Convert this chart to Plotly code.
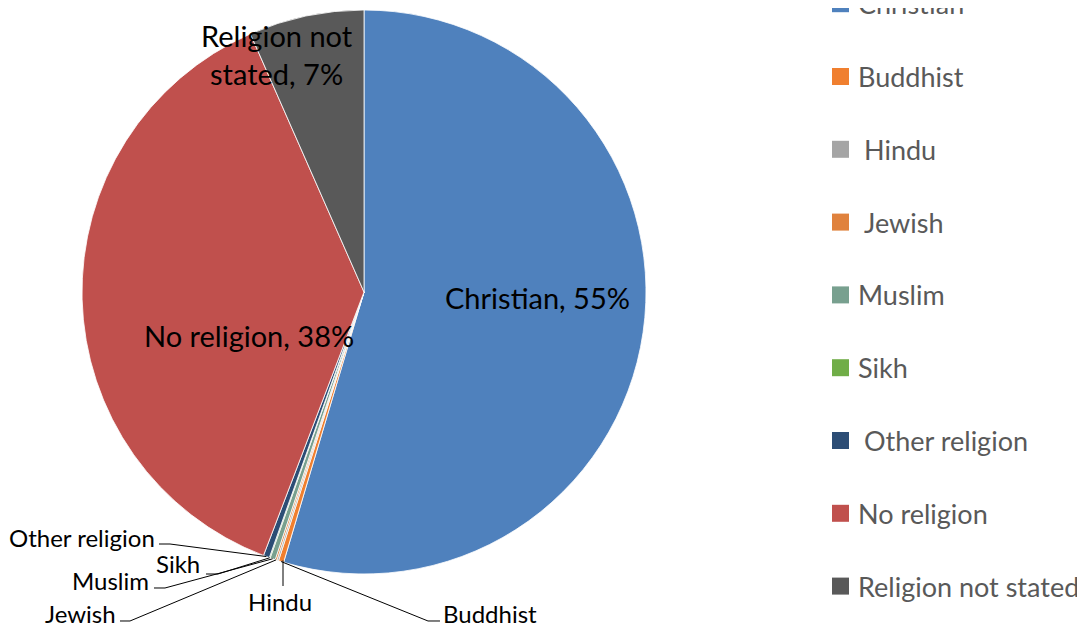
import math
import plotly.graph_objects as go

# ---------------- data ----------------
labels = ["Christian", "Buddhist", "Hindu", "Jewish", "Muslim", "Sikh",
          "Other religion", "No religion", "Religion not stated"]
values = [54.6, 0.3, 0.1, 0.1, 0.3, 0.05, 0.35, 37.6, 6.6]
colors = ["#4F81BD", "#F07F2F", "#A5A5A5", "#E0823D", "#78A08F", "#70AD47",
          "#2C4D75", "#C0504D", "#595959"]
legend_indent = [0, 0, 1, 1, 0, 0, 1, 0, 0]

# ---------------- layout geometry ----------------
OFF = 8                    # page body margin offset
W, H = 1085 - OFF, 629 - OFF
MT, MB = 10 - OFF, 55
PH = H - MT - MB          # plot height -> pie diameter
R = PH / 2
CX = 364 - OFF
CY = MT + R
FONT = "Lato, 'Open Sans', sans-serif"


def px2paper(x, y):
    # x, y given in screen pixels of the reference picture
    x -= OFF
    y -= OFF
    return x / W, 1 - (y - MT) / PH


def slice_angles():
    tot = sum(values)
    out, cum = [], 0.0
    for v in values:
        a0 = cum / tot * 360
        cum += v
        a1 = cum / tot * 360
        out.append((a0, a1))
    return out


def polar(theta_deg, r):
    # returns reference-screen pixels
    t = math.radians(theta_deg)
    return CX + OFF + r * math.sin(t), CY + OFF - r * math.cos(t)


angles = slice_angles()
tot = sum(values)

fig = go.Figure(go.Pie(
    values=values, labels=labels, sort=False, direction="clockwise",
    rotation=0, textinfo="none", showlegend=False, hole=0,
    marker=dict(colors=colors, line=dict(color="white", width=0.8)),
    domain=dict(x=[(CX - R) / W, (CX + R) / W], y=[0, 1]),
))

annotations = []
shapes = []

# ----- big slice labels (inside) -----
big_pos = {"Christian": (-6.5, 0.617, "Christian, {p}%"),
           "No religion": (-19.2, 0.434, "No religion, {p}%"),
           "Religion not stated": (-8.2, 0.897, "Religion not<br>stated, {p}%")}
for i, lab in enumerate(labels):
    if lab in big_pos:
        dth, rf, tmpl = big_pos[lab]
        a0, a1 = angles[i]
        mid = (a0 + a1) / 2 + dth
        x, y = polar(mid, rf * R)
        xp, yp = px2paper(x, y)
        pct = round(values[i] / tot * 100)
        annotations.append(dict(
            x=xp, y=yp, xref="paper", yref="paper", showarrow=False,
            text=tmpl.format(p=pct), xanchor="center", yanchor="middle",
            font=dict(family=FONT, size=29, color="#000000")))

# ----- small slice labels with leader lines -----
small_pos = {
    "Buddhist": (441, 613, "left", [(428, 621), (440, 621)]),
    "Hindu": (280, 601, "center", [(283, 586)]),
    "Jewish": (118, 613, "right", [(130, 621), (120, 621)]),
    "Muslim": (151, 580, "right", [(165, 588), (154, 588)]),
    "Sikh": (202, 563, "right", [(218, 574), (206, 574)]),
    "Other religion": (157, 537, "right", [(170, 544), (159, 544)]),
}
for i, lab in enumerate(labels):
    if lab in small_pos:
        tx, ty, anc, pts = small_pos[lab]
        a0, a1 = angles[i]
        mid = (a0 + a1) / 2
        ex, ey = polar(mid, R)
        if lab == "Hindu":
            ex = pts[0][0]
        path_pts = [(ex, ey)] + pts
        d = ""
        for k, (px, py) in enumerate(path_pts):
            xp, yp = px2paper(px, py)
            d += ("M" if k == 0 else " L") + f"{xp:.5f},{yp:.5f}"
        shapes.append(dict(type="path", path=d, xref="paper", yref="paper",
                           line=dict(color="#000000", width=1)))
        xp, yp = px2paper(tx, ty)
        annotations.append(dict(
            x=xp, y=yp, xref="paper", yref="paper", showarrow=False,
            text=lab, xanchor=anc, yanchor="middle",
            font=dict(family=FONT, size=24, color="#000000")))

# ----- manual legend -----
LEG_X, LEG_Y0, LEG_DY, SQ = 832, 3.7, 72.8, 17
for i, lab in enumerate(labels):
    yc = LEG_Y0 + i * LEG_DY
    x0, y0 = px2paper(LEG_X, yc - SQ / 2)
    x1, y1 = px2paper(LEG_X + SQ, yc + SQ / 2)
    shapes.append(dict(type="rect", xref="paper", yref="paper",
                       x0=x0, x1=x1, y0=y0, y1=y1,
                       fillcolor=colors[i], line=dict(width=0)))
    xp, yp = px2paper(LEG_X + SQ + 7 + 6 * legend_indent[i], yc)
    annotations.append(dict(
        x=xp, y=yp, xref="paper", yref="paper", showarrow=False,
        text=lab, xanchor="left", yanchor="middle",
        font=dict(family=FONT, size=27, color="#595959")))

fig.update_layout(
    width=W, height=H,
    margin=dict(l=0, r=0, t=MT, b=MB),
    paper_bgcolor="white", plot_bgcolor="white",
    annotations=annotations, shapes=shapes,
    showlegend=False,
)

fig.write_html("out.html")
